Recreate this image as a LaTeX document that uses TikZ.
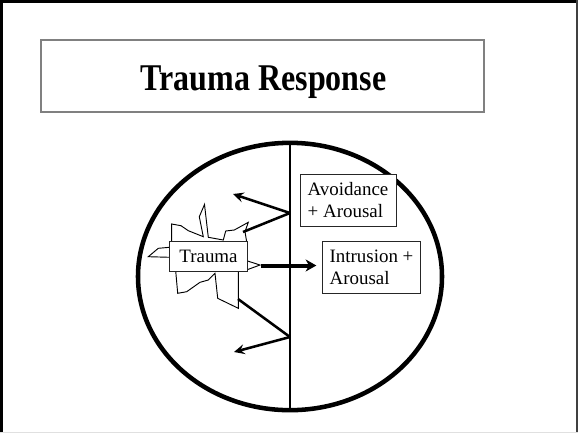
\documentclass[tikz,border=0pt]{standalone}
\usepackage{fontspec}
\setmainfont{Liberation Serif}
\usetikzlibrary{arrows.meta,shapes.geometric}

\begin{document}
\begin{tikzpicture}[x=0.75pt,y=-0.75pt,
  frameline/.style={line width=2.25pt},
  titlebox/.style={draw=black!50,line width=1.1pt,minimum width=332pt,minimum height=54pt,inner sep=0pt},
  titletext/.style={font=\fontsize{24}{28}\selectfont\bfseries,inner sep=0pt},
  labelbox/.style={draw=black!85,line width=0.75pt,fill=white,align=left,inner sep=0pt,
    font=\fontsize{14.2}{16.25}\selectfont},
  divider/.style={line width=2.2pt},
  outline/.style={line width=3.4pt},
  burst/.style={draw=black,line width=0.7pt,fill=white,line join=miter},
  ray/.style={line width=1.9pt},
  rayhead/.style={-{Stealth[length=8pt,width=7.5pt,inset=3pt]}},
  push/.style={line width=3pt,-{Stealth[length=8pt,width=9pt,inset=2.5pt]}}
]
\useasboundingbox (0,0) rectangle (578,433);

% slide frame
\draw[frameline,black] (1.5,433) -- (1.5,1.5) -- (576,1.5);
\draw[line width=1.5pt,black!75] (576.8,0) -- (576.8,433);
\draw[line width=0.75pt,black!12] (0,432.5) -- (578,432.5);

% heading
\node[titlebox] (title) at (262.5,76) {};
\node[titletext,anchor=base] (titlelabel) at (263.5,90) {\scalebox{1}[1.18]{Trauma Response}};

% the split circle
\node[draw,outline,ellipse,minimum width=228pt,minimum height=200.5pt,inner sep=0pt] (circle) at (290,276.5) {};
\coordinate (divtop) at (290,141);
\coordinate (divbot) at (290,411);
\draw[divider] (divtop) -- (divbot);

% jagged burst behind the trauma label
\draw[burst] (171.7,242) -- (171.7,224) -- (181,225.7) -- (188.3,230.7) -- (203.3,236.7)
  -- (199.3,216.7) -- (204.5,204.5) -- (208.3,237.3) -- (223.3,240) -- (225.7,231)
  -- (234.3,230) -- (248.3,222.3) -- (245,231.7) -- (246.7,242) -- (246.7,260.7)
  -- (260,265) -- (248.3,269.3) -- (238.3,271) -- (238.3,308.3) -- (217.7,298.3)
  -- (215,273.3) -- (208.3,280) -- (200,282.3) -- (186.7,291.7) -- (177.7,293.3)
  -- (175.7,271) -- (170,257.3) -- (148.3,256.7) -- (158.3,248.3) -- (169.3,247.3) -- cycle;

% labels
\node[labelbox,minimum width=58pt,minimum height=22pt] (trauma) at (208.5,256.5) {Trauma};
\node[labelbox,minimum width=72pt,minimum height=39pt] (avoid) at (348,200) {Avoidance\\+ Arousal};
\node[labelbox,minimum width=73pt,minimum height=38.5pt] (intr) at (371.5,267.5) {Intrusion +\\Arousal};

% rays from the divider
\coordinate (j1) at (290,213);
\coordinate (j2) at (290,337);
\coordinate (a1) at (233,194);
\coordinate (a2) at (234,352);
\coordinate (e1) at (243,232);
\coordinate (e2) at (238,299);
\draw[ray,rayhead] (j1) -- (a1);
\draw[ray] (j1) -- (e1);
\draw[ray] (j2) -- (e2);
\draw[ray,rayhead] (j2) -- (a2);

% thrust from the trauma towards intrusion
\coordinate (t0) at (261,265.5);
\draw[push] (t0) -- ([xshift=-4.5pt]intr.west |- t0);
\end{tikzpicture}
\end{document}
